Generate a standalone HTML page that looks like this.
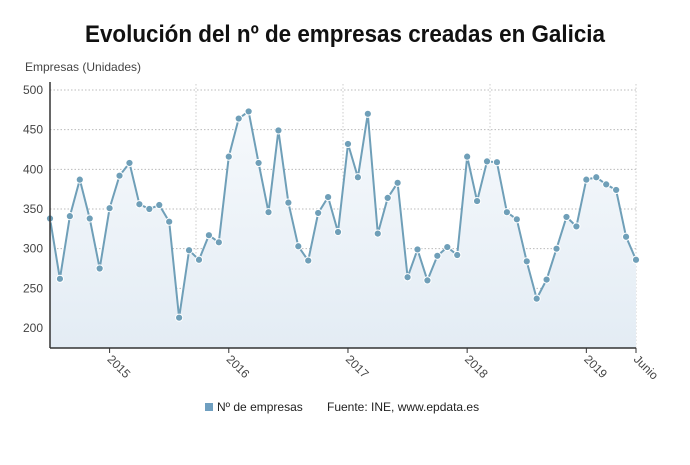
<!DOCTYPE html>
<html><head><meta charset="utf-8"><style>
html,body{margin:0;padding:0;background:#fff;}
svg{display:block;font-family:"Liberation Sans",sans-serif;}
</style></head><body>
<svg id="chart" width="690" height="465" viewBox="0 0 690 465">
<defs><linearGradient id="fillg" x1="0" y1="0" x2="0" y2="1"><stop offset="0" stop-color="#f6f9fc"/><stop offset="1" stop-color="#e3ecf4"/></linearGradient></defs>
<text x="345" y="42" text-anchor="middle" font-size="24" font-weight="bold" fill="#111" textLength="520" lengthAdjust="spacingAndGlyphs">Evolución del nº de empresas creadas en Galicia</text>
<text x="25" y="71" font-size="12" fill="#444">Empresas (Unidades)</text>
<g id="grid"></g>
<g id="plot"></g>
<g id="axes"></g>
<g>
<rect x="205" y="403" width="8" height="8" fill="#6f9fc0"/>
<text x="217" y="411" font-size="12" fill="#222">Nº de empresas</text>
<text x="327" y="411" font-size="12" fill="#222">Fuente: INE, www.epdata.es</text>
</g>
</svg>
<script>
const months = ["Jul14","Aug14","Sep14","Oct14","Nov14","Dec14","Jan15","Feb15","Mar15","Apr15","May15","Jun15","Jul15","Aug15","Sep15","Oct15","Nov15","Dec15","Jan16","Feb16","Mar16","Apr16","May16","Jun16","Jul16","Aug16","Sep16","Oct16","Nov16","Dec16","Jan17","Feb17","Mar17","Apr17","May17","Jun17","Jul17","Aug17","Sep17","Oct17","Nov17","Dec17","Jan18","Feb18","Mar18","Apr18","May18","Jun18","Jul18","Aug18","Sep18","Oct18","Nov18","Dec18","Jan19","Feb19","Mar19","Apr19","May19","Jun19"];
const values = [338,262,341,387,338,275,351,392,408,356,350,355,334,213,298,286,317,308,416,464,473,408,346,449,358,303,285,345,365,321,432,390,470,319,364,383,264,299,260,291,302,292,416,360,410,409,346,337,284,237,261,300,340,328,387,390,381,374,315,286];
const yTicks = [200,250,300,350,400,450,500];
const xTickLabels = ["2015","2016","2017","2018","2019","Junio"];
const xTickIndex = [6,18,30,42,54,59];

const NS="http://www.w3.org/2000/svg";
const X0=50, X1=636, YTOP=90, YBOT=328, VTOP=500, VBOT=200, AXISY=348;
const xs=i=>X0+(X1-X0)*i/(values.length-1);
const ys=v=>YBOT-(v-VBOT)*(YBOT-YTOP)/(VTOP-VBOT);
function mk(tag,attrs,parent){const e=document.createElementNS(NS,tag);for(const k in attrs)e.setAttribute(k,attrs[k]);document.getElementById(parent).appendChild(e);return e;}

yTicks.forEach(t=>{
  const l=mk('line',{x1:X0,x2:X1,y1:ys(t),y2:ys(t),stroke:'#bbb','stroke-dasharray':'1.5,2'},'grid');
  
  
  const tx=mk('text',{x:43,y:ys(t)+4,'text-anchor':'end','font-size':12,fill:'#444'},'grid');
  tx.textContent=t;
  
  
});
[196,343,490,636].forEach(x=>{
  const l=mk('line',{x1:x,x2:x,y1:84,y2:AXISY,stroke:'#ccc','stroke-dasharray':'1.5,2'},'grid');
  
  
});

let d='';values.forEach((v,i)=>{d+=(i?'L':'M')+xs(i).toFixed(1)+','+ys(v).toFixed(1);});
const area=mk('path',{d:d+'L'+xs(values.length-1)+','+AXISY+'L'+X0+','+AXISY+'Z',fill:'url(#fillg)'},'plot');


const line=mk('path',{d:d,fill:'none',stroke:'#6f9fb8','stroke-width':2},'plot');


values.forEach((v,i)=>{
  const c=mk('circle',{cx:xs(i),cy:ys(v),r:3.6,fill:'#6f9fb8',stroke:'#fff','stroke-width':1},'plot');
  
  
});

const ax=mk('line',{x1:X0,x2:X1,y1:AXISY,y2:AXISY,stroke:'#333','stroke-width':1.5},'axes');


const ay=mk('line',{x1:X0,x2:X0,y1:82,y2:AXISY,stroke:'#333','stroke-width':1.5},'axes');


xTickLabels.forEach((lab,k)=>{
  const x=xs(xTickIndex[k]);
  const t=mk('line',{x1:x,x2:x,y1:AXISY,y2:AXISY+5,stroke:'#333'},'axes');
  
  
  const tx=mk('text',{x:x-3,y:AXISY+12,'font-size':12,fill:'#444',transform:'rotate(45 '+(x-3)+' '+(AXISY+12)+')'},'axes');
  tx.textContent=lab;
  
  
});
</script>
</body></html>
